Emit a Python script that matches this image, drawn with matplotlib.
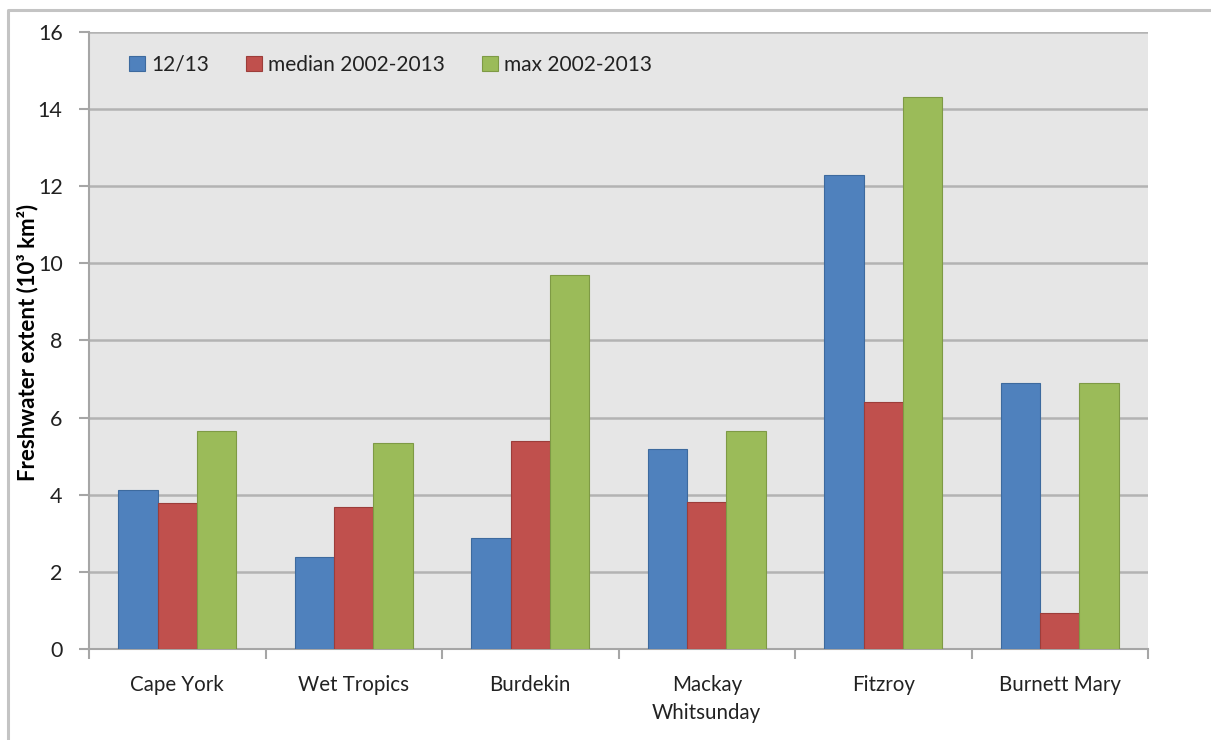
#!/usr/bin/env python3
# Freshwater plume extent per NRM region, grouped bar chart

import numpy as np
import matplotlib.pyplot as plt
from matplotlib.lines import Line2D

regions = ["Cape York", "Wet Tropics", "Burdekin", "Mackay\nWhitsunday", "Fitzroy", "Burnett Mary"]
season_1213 = [4.12, 2.39, 2.87, 5.19, 12.29, 6.89]
median_02_13 = [3.78, 3.69, 5.38, 3.82, 6.41, 0.93]
max_02_13 = [5.64, 5.33, 9.70, 5.64, 14.32, 6.89]

series = [
    ("12/13", season_1213, "#4f81bd", "#3d6a9e"),
    ("median 2002-2013", median_02_13, "#c0504d", "#9c3d3a"),
    ("max 2002-2013", max_02_13, "#9bbb59", "#7e9a45"),
]

plt.rcParams["font.family"] = ["Lato", "DejaVu Sans"]

fig = plt.figure(figsize=(12.11, 7.4), dpi=100)
ax = fig.add_axes([0.0735, 0.123, 0.8745, 0.834])
ax.set_facecolor("#e6e6e6")

x = np.arange(len(regions))
width = 0.222
for i, (label, vals, color, edge) in enumerate(series):
    ax.bar(x + (i - 1) * width, vals, width, color=color, edgecolor=edge,
           linewidth=0.8, label=label, zorder=3)

ax.set_xlim(-0.5, len(regions) - 0.5)
ax.set_ylim(0, 16)
ax.set_yticks(np.arange(0, 17, 2))
ax.yaxis.grid(True, color="#b3b3b3", linewidth=1.8, zorder=1)
ax.set_axisbelow(True)

# category labels centred, tick marks on the boundaries
ax.set_xticks(x)
ax.set_xticklabels(regions, fontsize=14.8, color="#222222", linespacing=1.45)
ax.tick_params(axis="x", length=0, pad=19)
ax.set_xticks(np.arange(-0.5, len(regions)), minor=True)
ax.tick_params(axis="x", which="minor", length=7, width=1.5, color="#a6a6a6")
ax.tick_params(axis="y", length=7, width=1.5, color="#a6a6a6", labelsize=15.5,
               labelcolor="#222222", pad=12)

for side in ["top", "right"]:
    ax.spines[side].set_visible(False)
for side in ["left", "bottom"]:
    ax.spines[side].set_color("#a6a6a6")
    ax.spines[side].set_linewidth(1.5)

# y axis title placed in figure coordinates so it sits just inside the frame
fig.text(28 / 1211, 1 - 342 / 740, "Freshwater extent (10³ km²)", rotation=90,
         ha="center", va="center", fontsize=16, fontweight="bold")

ax.legend(loc="upper left", ncol=3, frameon=False, fontsize=15,
          bbox_to_anchor=(0.02, 0.993), handlelength=0.75, handleheight=0.75,
          handletextpad=0.3, columnspacing=1.8, labelcolor="#222222")

# thin frame around the chart area
fig.add_artist(Line2D([0.0066, 0.0066, 1.0], [0.0, 0.9865, 0.9865],
                      transform=fig.transFigure, color="#c4c4c4", linewidth=2.2))

fig.savefig("out.png", dpi=100)
